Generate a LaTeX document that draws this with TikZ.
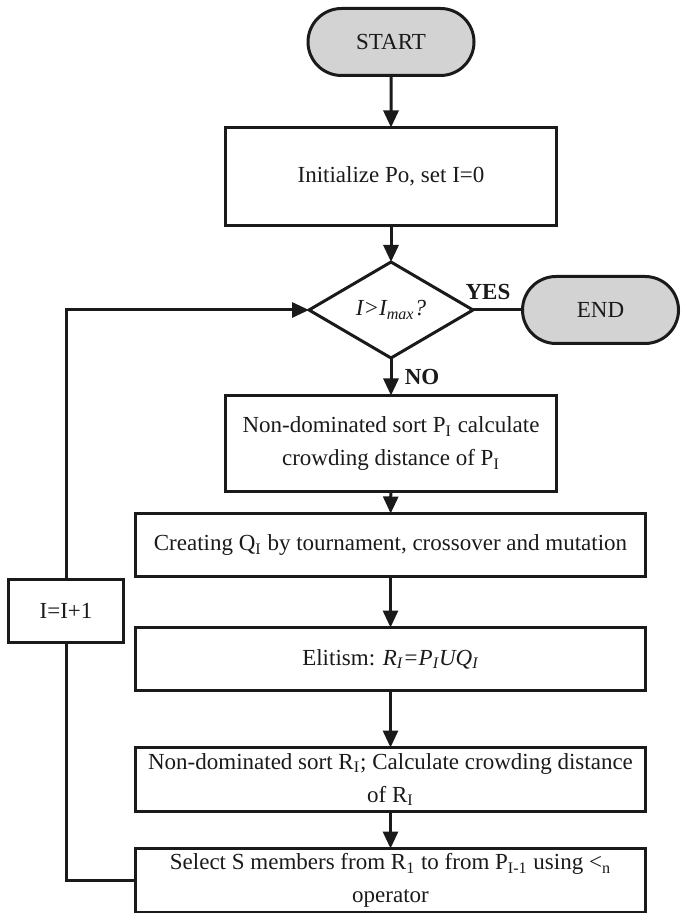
\documentclass[tikz,border=0pt]{standalone}
\usepackage{fontspec}
\setmainfont{Liberation Serif}
\usetikzlibrary{arrows.meta,shapes.geometric,shapes.misc}
\definecolor{termgray}{RGB}{211,211,211}
\definecolor{ink}{RGB}{26,26,26}

\begin{document}
\begin{tikzpicture}[x=0.5pt,y=-0.5pt,
  font=\fontsize{11.5}{16.5}\selectfont,
  every node/.style={inner sep=0pt, outer sep=0pt, text=ink},
  conn/.style={line width=1.5pt, draw=ink},
  flow/.style={conn, -{Triangle[length=8.5pt,width=7.5pt]}},
  procbox/.style={draw=ink, line width=1.5pt, rectangle, align=center},
  term/.style={draw=ink, line width=1.5pt, rounded rectangle, fill=termgray,
    minimum height=33.5pt},
  decision/.style={draw=ink, line width=1.5pt, diamond, minimum width=82pt,
    minimum height=48pt},
  answer/.style={font=\fontsize{11.5}{16.5}\selectfont\bfseries}
]
\useasboundingbox (0,0) rectangle (682,913);

% terminals
\node[term, minimum width=83pt] (start) at (391,42) {START};
\node[term, minimum width=78pt] (stop) at (600.5,310) {END};

% process steps
\node[procbox, minimum width=165.5pt, minimum height=49pt] (init) at (391,176.5)
  {Initialize Po, set I=0};
\node[decision] (test) at (391,310)
  {\itshape I\textgreater I\textsubscript{max}?};
\node[procbox, minimum width=165.5pt, minimum height=48pt] (sortp) at (391,443.5)
  {Non-dominated sort P\textsubscript{I} calculate\\crowding distance of P\textsubscript{I}};
\node[procbox, minimum width=255pt, minimum height=31.5pt] (offspring) at (390.5,545)
  {Creating Q\textsubscript{I} by tournament, crossover and mutation};
\node[procbox, minimum width=255pt, minimum height=31.5pt] (elite) at (390.5,659)
  {Elitism: {\itshape R\textsubscript{I}=P\textsubscript{I}UQ\textsubscript{I}}};
\node[procbox, minimum width=255pt, minimum height=32pt] (sortr) at (390.5,779.5)
  {Non-dominated sort R\textsubscript{I}; Calculate crowding distance\\of R\textsubscript{I}};
\node[procbox, minimum width=255pt, minimum height=32pt] (select) at (390.5,880.5)
  {Select S members from R\textsubscript{1} to from P\textsubscript{I-1} using \textless\textsubscript{n}\\operator};
\node[procbox, minimum width=57.5pt, minimum height=31.5pt] (incr) at (66,611)
  {I=I+1};

% branch labels
\node[answer] (yes) at (488,292) {YES};
\node[answer] (no) at (422,377) {NO};

% main flow
\draw[flow] (start) -- (init);
\draw[flow] (init) -- (test);
\draw[flow] (test) -- (sortp);
\draw[flow] (sortp) -- (offspring);
\draw[flow] (offspring) -- (elite);
\draw[flow] (elite) -- (sortr);
\draw[flow] (sortr) -- (select);
\draw[conn] (test.east) -- (stop.west);

% loop back to the test
\draw[conn] (select.west) -| (incr.south);
\draw[flow] (incr.north) |- (test.west);
\end{tikzpicture}
\end{document}
